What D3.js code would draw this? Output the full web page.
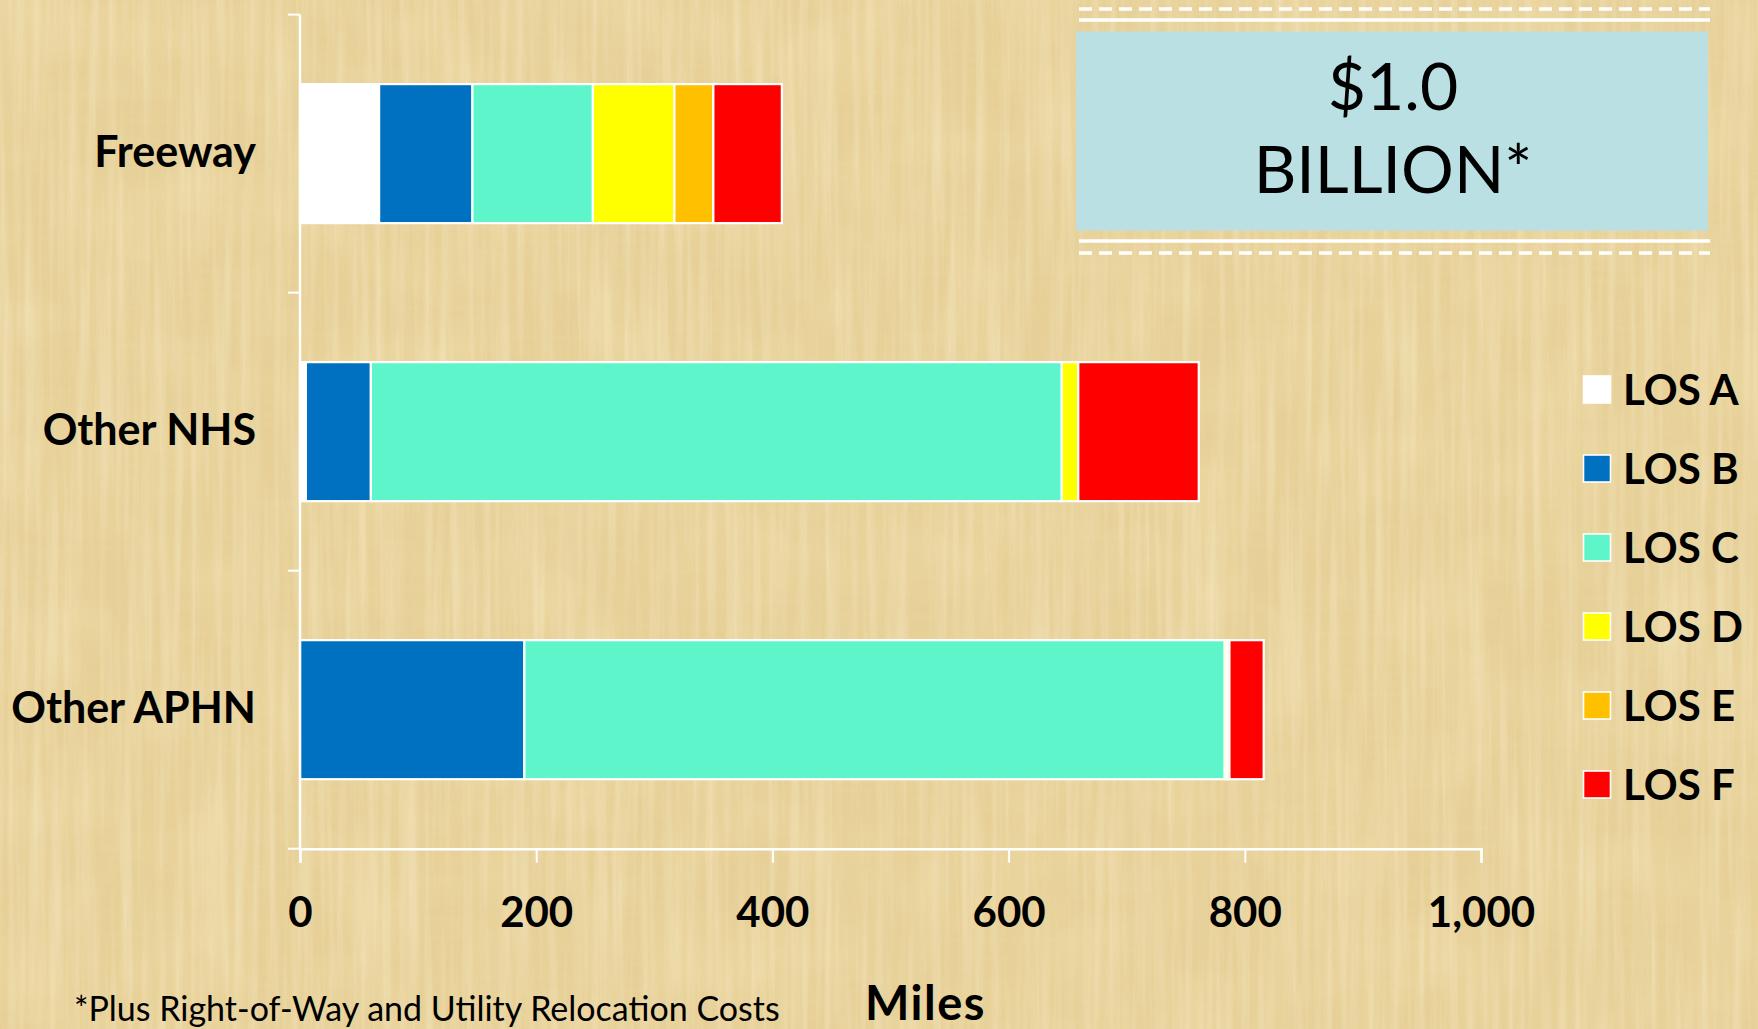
<!DOCTYPE html>
<html>
<head>
<meta charset="utf-8">
<script src="https://cdn.jsdelivr.net/npm/d3@7"></script>
<style>
  html, body { margin: 0; padding: 0; background: #e7cf98; }
  svg { display: block; }
  text { font-family: Lato, "Open Sans", sans-serif; fill: #000; }
</style>
</head>
<body>
<svg id="chart" width="1758" height="1029"></svg>
<script>
// Road categories and miles by level of service
const categories = ["Freeway", "Other NHS", "Other APHN"];
const levels = ["LOS A", "LOS B", "LOS C", "LOS D", "LOS E", "LOS F"];
const losA = [67, 5, 0];
const losB = [79, 55, 190];
const losC = [102, 585, 593];
const losD = [69, 14, 2];
const losE = [33, 0, 2];
const losF = [58, 102, 29];
const levelColors = ["#ffffff", "#0070c0", "#5ff5cb", "#ffff00", "#ffc000", "#ff0000"];
const xTicks = [0, 200, 400, 600, 800, 1000];
const costLines = ["$1.0", "BILLION*"];
const footnote = "*Plus Right-of-Way and Utility Relocation Costs";
const axisTitle = "Miles";

const svg = d3.select("#chart");
const W = 1758, H = 1029;

// Parchment background: base tone plus fibrous grain layers
const defs = svg.append("defs");
function grain(id, freq, seed, rgb, gain, offset) {
  const f = defs.append("filter").attr("id", id)
    .attr("x", 0).attr("y", 0).attr("width", "100%").attr("height", "100%");
  f.append("feTurbulence").attr("type", "fractalNoise")
    .attr("baseFrequency", freq).attr("numOctaves", 3).attr("seed", seed);
  f.append("feColorMatrix").attr("type", "matrix")
    .attr("values", `0 0 0 0 ${rgb[0]}  0 0 0 0 ${rgb[1]}  0 0 0 0 ${rgb[2]}  ${gain} 0 0 0 ${offset}`);
}
grain("grainV", "0.18 0.006", 7, [0.80, 0.66, 0.36], 1.4, -0.58);
grain("grainL", "0.12 0.004", 3, [0.98, 0.91, 0.72], 1.4, -0.55);
grain("grainH", "0.006 0.16", 11, [0.84, 0.70, 0.40], 1.2, -0.55);
grain("patch", "0.012 0.012", 5, [0.90, 0.77, 0.45], 1.2, -0.5);

svg.append("rect").attr("width", W).attr("height", H).attr("fill", "#e7d097");
svg.append("rect").attr("width", W).attr("height", H).attr("filter", "url(#patch)").attr("opacity", 0.6);
svg.append("rect").attr("width", W).attr("height", H).attr("filter", "url(#grainL)").attr("opacity", 0.55);
svg.append("rect").attr("width", W).attr("height", H).attr("filter", "url(#grainH)").attr("opacity", 0.4);
svg.append("rect").attr("width", W).attr("height", H).attr("filter", "url(#grainV)").attr("opacity", 0.7);

// Scales
const x = d3.scaleLinear().domain([0, 1000]).range([300, 1481]);
const y = d3.scaleBand().domain(categories).range([14.6, 848.7])
  .paddingInner(0.5).paddingOuter(0.25);

// Stacked bars
const rows = categories.map((c, i) => ({
  category: c,
  "LOS A": losA[i], "LOS B": losB[i], "LOS C": losC[i],
  "LOS D": losD[i], "LOS E": losE[i], "LOS F": losF[i]
}));
const series = d3.stack().keys(levels)(rows);

const bars = svg.append("g");
series.forEach((s, k) => {
  bars.selectAll(null).data(s.filter(d => d[1] - d[0] > 0)).join("rect")
    .attr("x", d => x(d[0]))
    .attr("y", d => y(d.data.category))
    .attr("width", d => x(d[1]) - x(d[0]))
    .attr("height", y.bandwidth())
    .attr("fill", levelColors[k])
    .attr("stroke", "#ffffff")
    .attr("stroke-width", 2.2);
});

// Axes
const xAxis = d3.axisBottom(x).tickValues(xTicks).tickSize(14).tickPadding(34)
  .tickFormat(d3.format(","));
const gx = svg.append("g").attr("transform", "translate(0,848.7)").call(xAxis);
gx.select(".domain").attr("stroke", "#fff").attr("stroke-width", 2.5);
gx.selectAll(".tick line").attr("stroke", "#fff").attr("stroke-width", 2);
gx.selectAll(".tick text")
  .attr("font-family", "Lato, sans-serif").attr("font-size", 42).attr("font-weight", 700)
  .attr("fill", "#000");

// Vertical axis with ticks at band boundaries
const yLine = svg.append("g");
yLine.append("line").attr("x1", 300).attr("x2", 300).attr("y1", 14.6).attr("y2", 848.7)
  .attr("stroke", "#fff").attr("stroke-width", 2.5);
const boundaries = d3.range(categories.length + 1).map(i => 14.6 + i * y.step());
yLine.selectAll(null).data(boundaries).join("line")
  .attr("x1", 288).attr("x2", 300).attr("y1", d => d).attr("y2", d => d)
  .attr("stroke", "#fff").attr("stroke-width", 2);

svg.append("g").selectAll("text").data(categories).join("text")
  .attr("x", 256)
  .attr("y", d => y(d) + y.bandwidth() / 2 + 13)
  .attr("text-anchor", "end")
  .attr("font-size", 43).attr("font-weight", 700)
  .text(d => d);

// Legend
const legend = svg.append("g");
levels.forEach((lv, i) => {
  const top = 376 + i * 79;
  legend.append("rect").attr("x", 1583.5).attr("y", top).attr("width", 27).attr("height", 27)
    .attr("fill", levelColors[i]).attr("stroke", "#fff").attr("stroke-width", 1.6);
  legend.append("text").attr("x", 1623).attr("y", top + 28.5)
    .attr("font-size", 42).attr("font-weight", 700).text(lv);
});

// Cost callout
const box = svg.append("g");
const bx0 = 1076, bx1 = 1708;
box.append("line").attr("x1", 1079).attr("x2", 1710).attr("y1", 9).attr("y2", 9)
  .attr("stroke", "#fff").attr("stroke-width", 3.5).attr("stroke-dasharray", "13 7");
box.append("line").attr("x1", 1079).attr("x2", 1710).attr("y1", 20).attr("y2", 20)
  .attr("stroke", "#fff").attr("stroke-width", 3.5);
box.append("rect").attr("x", bx0).attr("y", 31.5).attr("width", bx1 - bx0).attr("height", 199)
  .attr("fill", "#bae0e3");
box.append("line").attr("x1", 1079).attr("x2", 1710).attr("y1", 241).attr("y2", 241)
  .attr("stroke", "#fff").attr("stroke-width", 3.5);
box.append("line").attr("x1", 1079).attr("x2", 1710).attr("y1", 253).attr("y2", 253)
  .attr("stroke", "#fff").attr("stroke-width", 3.5).attr("stroke-dasharray", "13 7");
box.selectAll("text.cost").data(costLines).join("text").attr("class", "cost")
  .attr("x", (bx0 + bx1) / 2 + 1)
  .attr("y", (d, i) => i === 0 ? 110 : 193)
  .attr("text-anchor", "middle")
  .attr("font-size", 66).attr("font-weight", 400)
  .text(d => d);

// Footnote and axis title
svg.append("text").attr("x", 74).attr("y", 1021)
  .attr("font-size", 34).attr("font-weight", 400).text(footnote);
svg.append("text").attr("x", 865).attr("y", 1020)
  .attr("font-size", 47).attr("font-weight", 700).attr("letter-spacing", 1.5).text(axisTitle);
</script>
</body>
</html>
